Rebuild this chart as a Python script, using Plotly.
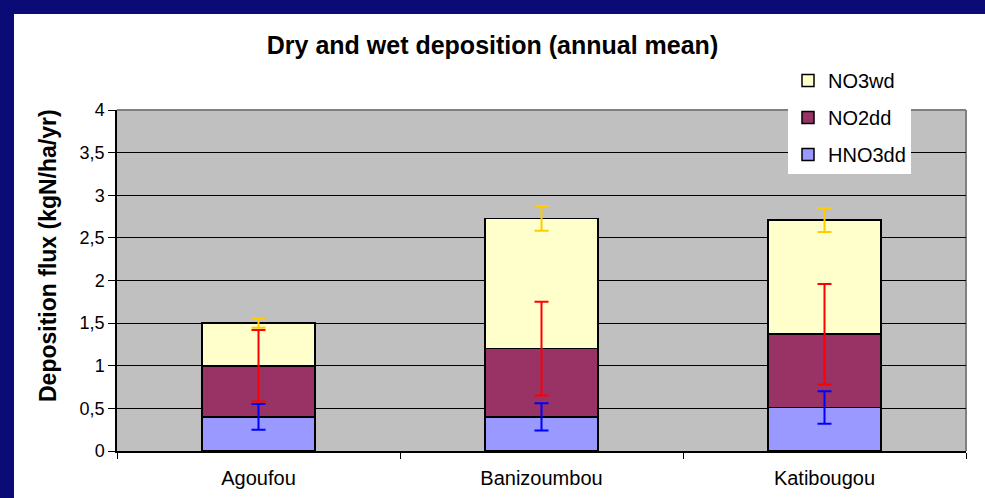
import plotly.graph_objects as go

# Sites and deposition components (kgN/ha/yr)
sites = ["Agoufou", "Banizoumbou", "Katibougou"]
hno3_dd = [0.40, 0.40, 0.51]
no2_dd = [0.60, 0.80, 0.86]
no3_wd = [0.50, 1.53, 1.34]

# Uncertainties for each component (drawn at the top of its stacked segment)
hno3_err = [0.15, 0.16, 0.19]
no2_err = [0.42, 0.55, 0.59]
no3_err = [0.055, 0.145, 0.14]

y_tick_vals = [0, 0.5, 1, 1.5, 2, 2.5, 3, 3.5, 4]
y_tick_text = ["0", "0,5", "1", "1,5", "2", "2,5", "3", "3,5", "4"]

W, H = 985, 498
L, R, T, B = 117, 19, 110, 47
PW, PH = W - L - R, H - T - B

FONT = "Liberation Sans, Arial, sans-serif"


def px(xp):
    return (xp - L) / PW


def py(yp):
    return (H - B - yp) / PH


fig = go.Figure()

series = [
    ("HNO3dd", hno3_dd, hno3_err, "#9999FF", "#0000FF", 3),
    ("NO2dd", no2_dd, no2_err, "#993366", "#FF0000", 2),
    ("NO3wd", no3_wd, no3_err, "#FFFFCC", "#FFCC00", 1),
]

# stacked bars
for name, vals, errs, fill, ecol, rank in series:
    fig.add_trace(go.Bar(
        name=name,
        x=sites,
        y=vals,
        width=0.4,
        legendgroup=name,
        legendrank=rank,
        marker=dict(color=fill, line=dict(color="black", width=1.5)),
        hoverinfo="skip",
    ))

# error bars at the top of each stacked segment, drawn above all bars
cumulative = [0.0] * len(sites)
for name, vals, errs, fill, ecol, rank in series:
    cumulative = [c + v for c, v in zip(cumulative, vals)]
    fig.add_trace(go.Scatter(
        x=sites,
        y=cumulative,
        mode="markers",
        marker=dict(size=1, opacity=0),
        error_y=dict(type="data", array=errs, visible=True,
                     color=ecol, thickness=2, width=7),
        showlegend=False,
        hoverinfo="skip",
    ))

navy = "#0B0B78"
shapes = [
    # dark blue frame around the white panel
    dict(type="rect", xref="paper", yref="paper",
         x0=px(0), x1=px(14), y0=py(H), y1=py(0),
         fillcolor=navy, line=dict(width=0), layer="above"),
    dict(type="rect", xref="paper", yref="paper",
         x0=px(0), x1=px(W), y0=py(14), y1=py(0),
         fillcolor=navy, line=dict(width=0), layer="above"),
    # grey top and right border of the plot area
    dict(type="line", xref="paper", yref="paper", x0=0, x1=1, y0=1, y1=1,
         line=dict(color="#808080", width=2), layer="below"),
    dict(type="line", xref="paper", yref="paper", x0=1, x1=1, y0=0, y1=1,
         line=dict(color="#808080", width=2), layer="below"),
]

fig.update_layout(
    width=W, height=H,
    margin=dict(l=L, r=R, t=T, b=B, pad=0, autoexpand=False),
    paper_bgcolor="white",
    plot_bgcolor="#C0C0C0",
    barmode="stack",
    font=dict(family=FONT, size=18, color="black"),
    title=dict(text="<b>Dry and wet deposition (annual mean)</b>",
               x=0.5, xref="container", xanchor="center",
               y=1 - 45 / H, yref="container", yanchor="middle",
               font=dict(family=FONT, size=25, color="black")),
    xaxis=dict(
        showline=True, linecolor="black", linewidth=1.5,
        ticks="outside", ticklen=6, tickcolor="black", tickson="boundaries",
        showgrid=False, tickfont=dict(size=20), ticklabelstandoff=8,
        automargin=False,
    ),
    yaxis=dict(
        range=[0, 4], tickvals=y_tick_vals, ticktext=y_tick_text,
        showline=True, linecolor="black", linewidth=1.5,
        ticks="outside", ticklen=7, tickcolor="black",
        showgrid=True, gridcolor="black", gridwidth=1,
        zeroline=False, tickfont=dict(size=18), automargin=False,
    ),
    legend=dict(
        x=px(788), y=py(61), xanchor="left", yanchor="top",
        bgcolor="white", borderwidth=0,
        traceorder="grouped", tracegroupgap=8,
        font=dict(size=20),
    ),
    shapes=shapes,
    annotations=[dict(
        text="<b>Deposition flux (kgN/ha/yr)</b>",
        xref="paper", yref="paper", x=px(48), y=py(256),
        textangle=-90, showarrow=False, xanchor="center", yanchor="middle",
        font=dict(family=FONT, size=23, color="black"),
    )],
)

fig.write_html("out.html", config=dict(displayModeBar=False))
